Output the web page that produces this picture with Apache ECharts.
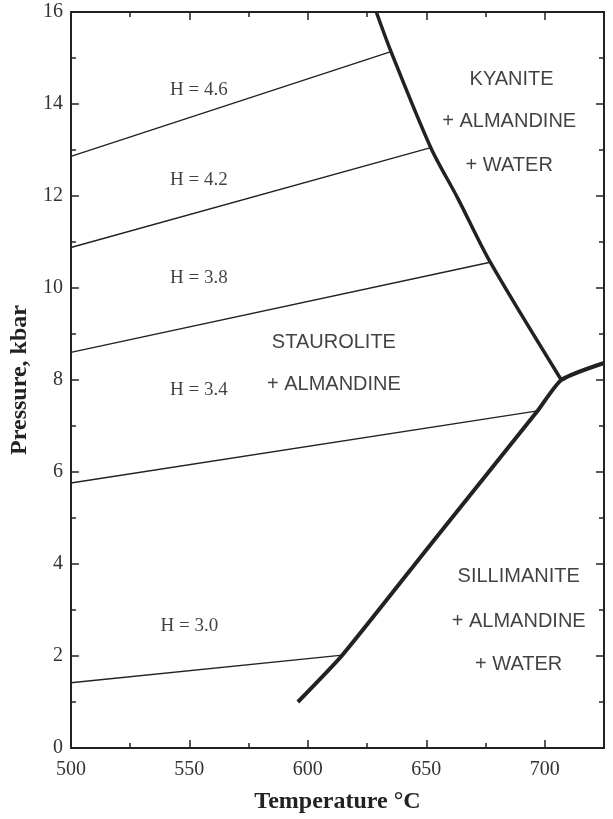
<!DOCTYPE html>
<html><head><meta charset="utf-8">
<script src="https://cdn.jsdelivr.net/npm/echarts@6/dist/echarts.min.js"></script>
<style>html,body{margin:0;padding:0;background:#fff}#c{width:613px;height:819px}</style>
</head><body><div id="c"></div>
<script>
// Phase boundary (thick): upper kyanite boundary, lower sillimanite boundary
const upperBoundary = [[628.9,16.0],[635.1,15.14],[651.9,13.05],[663.2,11.96],[677.0,10.56],[707.0,8.0]];
const lowerBoundary = [[595.8,1.0],[614.6,2.02],[651.9,4.43],[697.0,7.33],[707.0,8.0],[725.0,8.37]];
// Isopleths of H (thin lines)
const hNames = ['H = 4.6','H = 4.2','H = 3.8','H = 3.4','H = 3.0'];
const hLines = [
  [[500,12.86],[635.1,15.14]],
  [[500,10.88],[651.9,13.05]],
  [[500,8.60],[677.0,10.56]],
  [[500,5.76],[697.0,7.33]],
  [[500,1.42],[614.6,2.02]]
];
const hLabelPos = [[554,14.3],[554,12.35],[554,10.22],[554,7.78],[550,2.65]];
// Field labels
const fieldText = ['KYANITE','+ ALMANDINE','+ WATER','STAUROLITE','+ ALMANDINE','SILLIMANITE','+ ALMANDINE','+ WATER'];
const fieldPos = [[686,14.54],[685,13.61],[685,12.67],[611,8.82],[611,7.90],[689,3.72],[689,2.75],[689,1.81]];
const xTicks = [500,550,600,650,700];
const yTicks = [0,2,4,6,8,10,12,14,16];

const chart = echarts.init(document.getElementById('c'));
const serif = '"Liberation Serif","DejaVu Serif",serif';
const sans = '"Liberation Sans","DejaVu Sans",sans-serif';
const axCol = '#222';
function xa(pos, interval, len, labels, line){
  return {type:'value', min:500, max:725, interval:interval, position:pos,
    axisLine:{show:line, onZero:false, lineStyle:{color:axCol,width:2}},
    axisTick:{show:true, inside:true, length:len, lineStyle:{color:axCol,width:1.5}},
    axisLabel:{show:labels, margin:12, color:'#333', fontFamily:serif, fontSize:20,
      formatter:v=> xTicks.includes(v)?String(v):''},
    splitLine:{show:false},
    name: labels?'Temperature °C':'', nameLocation:'middle', nameGap:42,
    nameTextStyle:{fontFamily:serif,fontSize:24,fontWeight:'bold',color:'#222'}};
}
function ya(pos, interval, len, labels, line){
  return {type:'value', min:0, max:16, interval:interval, position:pos,
    axisLine:{show:line, onZero:false, lineStyle:{color:axCol,width:2}},
    axisTick:{show:true, inside:true, length:len, lineStyle:{color:axCol,width:1.5}},
    axisLabel:{show:labels, margin:8, color:'#333', fontFamily:serif, fontSize:20,
      formatter:v=> yTicks.includes(v)?String(v):''},
    splitLine:{show:false},
    name: labels?'Pressure, kbar':'', nameLocation:'middle', nameGap:37,
    nameTextStyle:{fontFamily:serif,fontSize:24,fontWeight:'bold',color:'#222'}};
}
const series = [];
hLines.forEach((d,i)=>series.push({type:'line', data:d, symbol:'none', silent:true,
  lineStyle:{color:'#222', width:1.4}}));
series.push({type:'line', data:upperBoundary, symbol:'none', smooth:0.3,
  lineStyle:{color:'#222', width:3.5}});
series.push({type:'line', data:lowerBoundary, symbol:'none', smooth:0.2,
  lineStyle:{color:'#222', width:4}});
series.push({type:'scatter', symbolSize:0, data:hLabelPos.map((p,i)=>({value:p,name:hNames[i]})),
  label:{show:true, position:'inside', formatter:p=>p.name, fontFamily:serif, fontSize:19, color:'#111'}});
series.push({type:'scatter', symbolSize:0, data:fieldPos.map((p,i)=>({value:p,name:fieldText[i]})),
  label:{show:true, position:'inside', formatter:p=>p.name, fontFamily:sans, fontSize:20, color:'#111'}});

chart.setOption({
  animation:false,
  grid:{left:68, right:9, top:12, bottom:63},
  xAxis:[xa('bottom',50,8,true,true), xa('bottom',25,5,false,false), xa('top',50,8,false,true), xa('top',25,5,false,false)],
  yAxis:[ya('left',2,8,true,true), ya('left',1,5,false,false), ya('right',2,8,false,true), ya('right',1,5,false,false)],
  series: series
});
</script></body></html>
